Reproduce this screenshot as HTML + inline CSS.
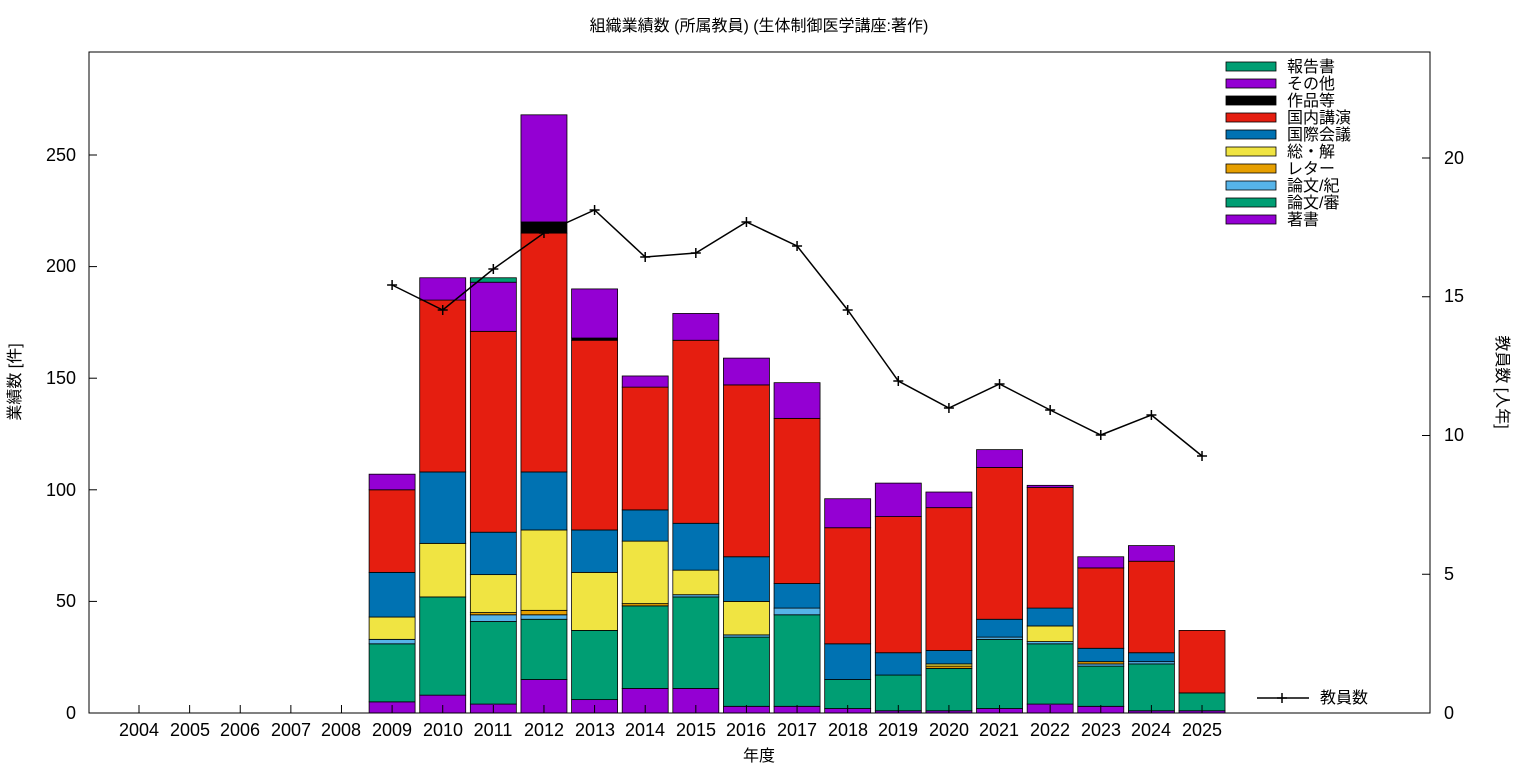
<!DOCTYPE html>
<html><head><meta charset="utf-8"><style>
body{margin:0;background:#fff;}
svg text{font-family:"Liberation Sans","Noto Sans CJK JP",sans-serif;font-size:16px;fill:#000;}
svg text.tk{font-size:18px;}
</style></head><body>
<svg id="s" width="1536" height="768" viewBox="0 0 1536 768" xmlns="http://www.w3.org/2000/svg">
<rect x="0" y="0" width="1536" height="768" fill="#fff"/>
<g id="bars"></g>
<rect x="89" y="52" width="1341" height="661" fill="none" stroke="#000" stroke-width="1"/>
<g id="ticks" stroke="#000" stroke-width="1"></g>
<text x="759" y="31" text-anchor="middle">組織業績数 (所属教員) (生体制御医学講座:著作)</text>
<g text-anchor="end">
<text class="tk" x="76" y="719">0</text><text class="tk" x="76" y="607">50</text><text class="tk" x="76" y="496">100</text><text class="tk" x="76" y="384">150</text><text class="tk" x="76" y="272">200</text><text class="tk" x="76" y="161">250</text>
</g>
<g text-anchor="start">
<text class="tk" x="1444" y="719">0</text><text class="tk" x="1444" y="580">5</text><text class="tk" x="1444" y="441">10</text><text class="tk" x="1444" y="302">15</text><text class="tk" x="1444" y="164">20</text>
</g>
<g text-anchor="middle">
<text class="tk" x="139" y="736">2004</text><text class="tk" x="190" y="736">2005</text><text class="tk" x="240" y="736">2006</text><text class="tk" x="291" y="736">2007</text><text class="tk" x="341" y="736">2008</text><text class="tk" x="392" y="736">2009</text><text class="tk" x="443" y="736">2010</text><text class="tk" x="493" y="736">2011</text><text class="tk" x="544" y="736">2012</text><text class="tk" x="595" y="736">2013</text><text class="tk" x="645" y="736">2014</text><text class="tk" x="696" y="736">2015</text><text class="tk" x="746" y="736">2016</text><text class="tk" x="797" y="736">2017</text><text class="tk" x="848" y="736">2018</text><text class="tk" x="898" y="736">2019</text><text class="tk" x="949" y="736">2020</text><text class="tk" x="999" y="736">2021</text><text class="tk" x="1050" y="736">2022</text><text class="tk" x="1101" y="736">2023</text><text class="tk" x="1151" y="736">2024</text><text class="tk" x="1202" y="736">2025</text>
<text x="759" y="761">年度</text>
</g>
<text transform="translate(20,382) rotate(-90)" text-anchor="middle">業績数 [件]</text>
<text transform="translate(1497,382) rotate(90)" text-anchor="middle">教員数 [人年]</text>
<g id="legend"></g>
<g>
<text x="1287" y="72">報告書</text><text x="1287" y="89">その他</text><text x="1287" y="106">作品等</text><text x="1287" y="123">国内講演</text><text x="1287" y="140">国際会議</text><text x="1287" y="157">総・解</text><text x="1287" y="174">レター</text><text x="1287" y="191">論文/紀</text><text x="1287" y="208">論文/審</text><text x="1287" y="225">著書</text>
<text x="1320" y="703">教員数</text>
</g>
<line x1="1257" y1="698" x2="1309" y2="698" stroke="#000" stroke-width="1.5"/>
<path d="M1277 698h10M1282 693v10" stroke="#000" stroke-width="1.5"/>
<g id="line"></g>
</svg>
<script>
var NS="http://www.w3.org/2000/svg";
function el(p,t,a){var e=document.createElementNS(NS,t);for(var k in a)e.setAttribute(k,a[k]);p.appendChild(e);return e;}
var cols=["#9400d3","#009e73","#56b4e9","#e69f00","#f0e442","#0072b2","#e51e10","#000000","#9400d3","#009e73"];
var d={2009:[5,26,2,0,10,20,37,0,7,0],2010:[8,44,0,0,24,32,77,0,10,0],2011:[4,37,3,1,17,19,90,0,22,2],
2012:[15,27,2,2,36,26,107,5,48,0],2013:[6,31,0,0,26,19,85,1,22,0],2014:[11,37,0,1,28,14,55,0,5,0],
2015:[11,41,1,0,11,21,82,0,12,0],2016:[3,31,1,0,15,20,77,0,12,0],2017:[3,41,3,0,0,11,74,0,16,0],
2018:[2,13,0,0,0,16,52,0,13,0],2019:[1,16,0,0,0,10,61,0,15,0],2020:[1,19,0,1,1,6,64,0,7,0],
2021:[2,31,1,0,0,8,68,0,8,0],2022:[4,27,1,0,7,8,54,0,1,0],2023:[3,18,1,1,0,6,36,0,5,0],
2024:[1,21,1,0,0,4,41,0,7,0],2025:[1,8,0,0,0,0,28,0,0,0]};
var g=document.getElementById("bars"),S=2.232,Y0=713;
function X(y){return 139+(y-2004)*50.62;}
for(var y in d){var c=0,x=X(+y)-23;for(var i=0;i<10;i++){var v=d[y][i];if(!v)continue;
var y1=Y0-(c+v)*S,y2=Y0-c*S;el(g,"rect",{x:x,y:y1,width:46,height:y2-y1,fill:cols[i],stroke:"#000","stroke-width":0.8});c+=v;}}
var t=document.getElementById("ticks");
[0,50,100,150,200,250].forEach(function(v){var yy=Y0-v*S;el(t,"line",{x1:89,y1:yy,x2:97,y2:yy});});
for(var k=0;k<=20;k+=5){var yy=Y0-k*27.75;el(t,"line",{x1:1422,y1:yy,x2:1430,y2:yy});}
for(var yr=2004;yr<=2025;yr++){el(t,"line",{x1:X(yr),y1:713,x2:X(yr),y2:705});}
var L=document.getElementById("legend"),order=[9,8,7,6,5,4,3,2,1,0];
order.forEach(function(ci,j){el(L,"rect",{x:1226,y:62+j*17,width:50,height:9,fill:cols[ci],stroke:"#000","stroke-width":0.8});});
var p=[[2009,285],[2010,310],[2011,269],[2012,233],[2013,210],[2014,257],[2015,253],[2016,222],[2017,246],[2018,310],[2019,381],[2020,408],[2021,384],[2022,410],[2023,435],[2024,415],[2025,456]];
var lg=document.getElementById("line"),s="";
p.forEach(function(q,i){s+=(i?"L":"M")+X(q[0])+" "+q[1];});
el(lg,"path",{d:s,fill:"none",stroke:"#000","stroke-width":1.5});
p.forEach(function(q){var x=X(q[0]);el(lg,"path",{d:"M"+(x-5)+" "+q[1]+"h10M"+x+" "+(q[1]-5)+"v10",stroke:"#000","stroke-width":1.5});});
</script>
</body></html>
